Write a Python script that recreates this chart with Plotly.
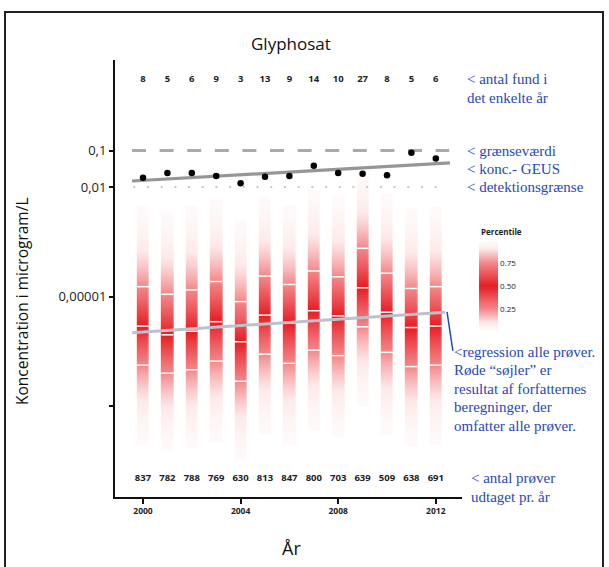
import math
import numpy as np
import plotly.graph_objects as go

# ---------------- data ----------------
years = list(range(2000, 2013))
fund_counts = [8, 5, 6, 9, 3, 13, 9, 14, 10, 27, 8, 5, 6]
sample_counts = [837, 782, 788, 769, 630, 813, 847, 800, 703, 639, 509, 638, 691]

# detected concentrations (microgram/L), black dots
detected_conc = [0.018, 0.024, 0.024, 0.020, 0.0126, 0.019, 0.020, 0.038, 0.024, 0.023, 0.021, 0.087, 0.060]

# percentiles of all samples (log10 microgram/L) -> red columns
p75_log = [-4.73, -4.94, -4.82, -4.59, -5.14, -4.44, -4.67, -4.30, -4.46, -3.68, -4.36, -4.78, -4.73]
p50_log = [-5.81, -6.05, -5.95, -5.69, -6.24, -5.51, -5.73, -5.39, -5.53, -4.76, -5.43, -5.85, -5.81]
p25_log = [-6.88, -7.10, -7.01, -6.77, -7.32, -6.58, -6.83, -6.47, -6.62, -5.83, -6.53, -6.92, -6.88]

limit_value = 0.1          # grænseværdi
detection_limit = 0.01     # detektionsgrænse
ref_x = [1999.55, 2012.55]
geus_trend_x = [1999.55, 2012.58]
geus_trend_conc = [0.0146, 0.0457]
all_trend_x = [1999.56, 2012.38]
all_trend_conc = [10 ** -5.99, 10 ** -5.43]

y_tickvals = [0.1, 0.01, 0.00001, 0.00000001]
y_ticktext = ["0,1", "0,01", "0,00001", ""]
x_tickvals = [2000, 2004, 2008, 2012]

# ---------------- layout geometry (screen px) ----------------
W, H = 609, 567
PL, PR, PT, PB = 115, 462, 60, 497          # plot area on screen
L, T = PL, PT
R, B = W - PR, H - PB
PW, PH = PR - PL, PB - PT


def xp(px):
    return (px - PL) / PW


def yp(py):
    return (PB - py) / PH


BLUE = "rgb(38,72,190)"
SANS = "Open Sans"
SERIF = "Liberation Serif"

lg = np.log10

# ---------------- percentile field for the red columns ----------------
ygrid = np.arange(-10.0, 0.0, 0.02)
z = np.full((len(ygrid), len(years)), np.nan)
for j in range(len(years)):
    med, hi, lo = p50_log[j], p75_log[j], p25_log[j]
    for i, yv in enumerate(ygrid):
        d = yv - med
        sd = (hi - med) / 0.6745 if d >= 0 else (med - lo) / 0.6745
        p = 0.5 * (1 + math.erf(d / (sd * math.sqrt(2))))
        if 0.02 < p < 0.98:
            z[i, j] = p

colorscale = [[0, "rgb(255,255,255)"], [0.1, "rgb(253,233,233)"], [0.25, "rgb(243,135,138)"],
              [0.5, "rgb(230,30,36)"], [0.75, "rgb(243,135,138)"], [0.9, "rgb(253,233,233)"],
              [1, "rgb(255,255,255)"]]

fig = go.Figure()
fig.add_trace(go.Heatmap(
    x=years, y=ygrid, z=z, zmin=0, zmax=1, colorscale=colorscale, xgap=12.2,
    hoverinfo="skip",
    colorbar=dict(x=xp(479), xanchor="left", y=yp(286), yanchor="middle", xpad=0, ypad=0,
                  len=92, lenmode="pixels", thickness=19, outlinewidth=0,
                  tickvals=[0.25, 0.5, 0.75], ticktext=["0.25", "0.50", "0.75"],
                  ticks="", tickfont=dict(family=SANS, size=8, color="#222")),
))

# white quantile lines
qx, qy = [], []
for j, yr in enumerate(years):
    for v in (p25_log[j], p50_log[j], p75_log[j]):
        qx += [yr - 0.245, yr + 0.245, None]
        qy += [v, v, None]
fig.add_trace(go.Scatter(x=qx, y=qy, mode="lines", line=dict(color="white", width=1.5),
                         hoverinfo="skip", showlegend=False))

# regression all samples
fig.add_trace(go.Scatter(x=all_trend_x, y=lg(all_trend_conc), mode="lines",
                         line=dict(color="rgb(188,193,203)", width=3), showlegend=False))
# detection limit (dotted)
fig.add_trace(go.Scatter(x=[1999.6, 2012.4], y=lg([detection_limit] * 2), mode="lines",
                         line=dict(color="rgb(200,200,200)", width=2, dash="2px,11.7px"),
                         showlegend=False))
# limit value (dashed)
fig.add_trace(go.Scatter(x=ref_x, y=lg([limit_value] * 2), mode="lines",
                         line=dict(color="rgb(170,170,170)", width=3, dash="14px,13.6px"),
                         showlegend=False))
# GEUS trend
fig.add_trace(go.Scatter(x=geus_trend_x, y=lg(geus_trend_conc), mode="lines",
                         line=dict(color="rgb(150,150,150)", width=3.2), showlegend=False))
# detected dots
fig.add_trace(go.Scatter(x=years, y=lg(detected_conc), mode="markers",
                         marker=dict(color="black", size=6.5), showlegend=False))
# counts
fig.add_trace(go.Scatter(x=years, y=[0.93] * len(years), mode="text",
                         text=[f"<b>{c}</b>" for c in fund_counts],
                         textfont=dict(family=SANS, size=9.5, color="#222"), showlegend=False))
fig.add_trace(go.Scatter(x=years, y=[-10.0] * len(years), mode="text",
                         text=[f"<b>{c}</b>" for c in sample_counts],
                         textfont=dict(family=SANS, size=9.5, color="#222"), showlegend=False))

# connector for regression annotation
fig.add_shape(type="line", xref="x", yref="y", x0=2012.46, y0=-5.42, x1=2012.70, y1=-6.49,
              line=dict(color=BLUE, width=1.5))

# outer frame
fig.add_shape(type="rect", xref="paper", yref="paper",
              x0=xp(5), x1=xp(603), y0=yp(575), y1=yp(12),
              line=dict(color="#222", width=2))

ann = []


def text(px, py, s, size=15, color=BLUE, family=SERIF, xanchor="left", angle=0, bold=False):
    ann.append(dict(x=xp(px), y=yp(py), xref="paper", yref="paper", text=(f"<b>{s}</b>" if bold else s),
                    showarrow=False, xanchor=xanchor, yanchor="middle", textangle=angle,
                    font=dict(family=family, size=size, color=color)))


text(291, 43, "Glyphosat", size=17, color="#111", family=SANS, xanchor="center")
text(22, 301, "Koncentration i microgram/L", size=15.5, color="#111", family=SANS,
     xanchor="center", angle=-90)
text(291, 548, "År", size=18, color="#111", family=SANS, xanchor="center")
text(479, 232, "Percentile", size=8, color="#222", family=SANS, bold=True)

text(465, 79, "&lt; antal fund i")
text(465, 98, "det enkelte år")
text(465, 151, "&lt; grænseværdi")
text(465, 168.5, "&lt; konc.- GEUS")
text(465, 187, "&lt; detektionsgrænse")
text(452, 352, "&lt;regression alle prøver.")
text(452, 370, "Røde “søjler” er")
text(452, 388.5, "resultat af forfatternes")
text(452, 407, "beregninger, der")
text(452, 425.5, "omfatter alle prøver.")
text(469, 478, "&lt; antal prøver")
text(469, 497, "udtaget pr. år")

fig.update_layout(
    width=W, height=H, margin=dict(l=L, r=R, t=T, b=B),
    paper_bgcolor="white", plot_bgcolor="white", showlegend=False,
    annotations=ann,
    xaxis=dict(range=[2000 - 28 / 24.4, 2000 + 319 / 24.4], tickvals=x_tickvals,
               ticktext=[f"<b>{v}</b>" for v in x_tickvals],
               showgrid=False, zeroline=False, showline=True, linecolor="#111", linewidth=2,
               ticks="outside", ticklen=5, tickwidth=1.5, tickcolor="#111",
               tickfont=dict(family=SANS, size=8.5, color="#222")),
    yaxis=dict(range=[-2 - 310 / 36.5, -2 + 127 / 36.5], tickvals=list(lg(y_tickvals)),
               ticktext=y_ticktext,
               showgrid=False, zeroline=False, showline=True, linecolor="#111", linewidth=2,
               ticks="outside", ticklen=4, tickwidth=1.5, tickcolor="#111",
               tickfont=dict(family=SANS, size=13, color="#222")),
)

fig.write_html("out.html", config={"displayModeBar": False},
               post_script="document.body.style.margin='0';document.body.style.overflow='hidden';")
